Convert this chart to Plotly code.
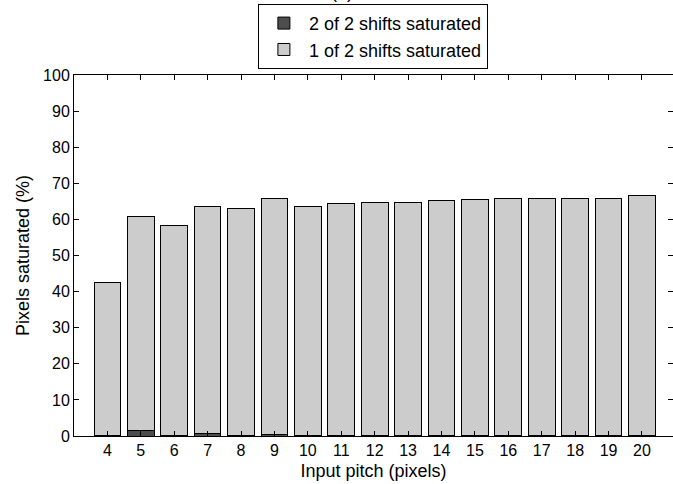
import plotly.graph_objects as go

# Input pitch values (pixels) and the share of pixels saturated (%)
pitch = [4, 5, 6, 7, 8, 9, 10, 11, 12, 13, 14, 15, 16, 17, 18, 19, 20]
two_of_two = [0.2, 1.5, 0.1, 0.6, 0.1, 0.4, 0.1, 0.1, 0.1, 0.1, 0.1, 0.1, 0.1, 0.1, 0.1, 0.1, 0.1]
one_of_two = [42.2, 59.4, 58.2, 63.1, 62.8, 65.4, 63.6, 64.4, 64.7, 64.7, 65.0, 65.3, 65.8, 65.8, 65.8, 65.8, 66.4]
y_ticks = [0, 10, 20, 30, 40, 50, 60, 70, 80, 90, 100]

FONT = "Liberation Sans, Arial, sans-serif"

fig = go.Figure()
fig.add_trace(go.Bar(
    x=pitch, y=two_of_two, name="2 of 2 shifts saturated",
    marker=dict(color="#4d4d4d", line=dict(color="black", width=1)),
    width=0.8,
))
fig.add_trace(go.Bar(
    x=pitch, y=one_of_two, name="1 of 2 shifts saturated",
    marker=dict(color="#cccccc", line=dict(color="black", width=1)),
    width=0.8,
))

axis_style = dict(
    showline=True, linecolor="black", linewidth=1, mirror="ticks",
    ticks="inside", ticklen=5, tickcolor="black", tickwidth=1,
    showgrid=False, zeroline=False,
    tickfont=dict(family=FONT, size=16, color="black"),
)

fig.update_layout(
    width=673, height=484,
    margin=dict(l=74, r=0, t=75, b=48),
    barmode="stack",
    plot_bgcolor="white", paper_bgcolor="white",
    font=dict(family=FONT, size=16, color="black"),
    xaxis=dict(
        range=[3, 20.93], tickmode="array", tickvals=pitch,
        title=dict(text="Input pitch (pixels)", font=dict(family=FONT, size=18), standoff=6),
        **axis_style,
    ),
    yaxis=dict(
        range=[0, 100], tickmode="array", tickvals=y_ticks,
        title=dict(text="Pixels saturated (%)", font=dict(family=FONT, size=18), standoff=8),
        **axis_style,
    ),
    legend=dict(
        x=0.307, y=1.197, xanchor="left", yanchor="top",
        traceorder="normal",
        bordercolor="black", borderwidth=1, bgcolor="white",
        font=dict(family=FONT, size=18, color="black"),
        tracegroupgap=0, itemwidth=40,
    ),
    showlegend=True,
    annotations=[dict(
        text="(a)", xref="paper", yref="paper", x=0.448, y=1.0,
        xanchor="center", yanchor="bottom", yshift=71, showarrow=False,
        font=dict(family=FONT, size=18, color="black"),
    )],
)

fig.write_html("out.html")
